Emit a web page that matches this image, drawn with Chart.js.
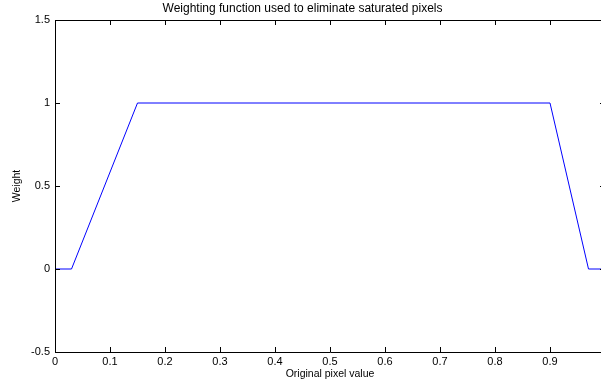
<!DOCTYPE html>
<html>
<head>
<meta charset="utf-8">
<script src="https://cdn.jsdelivr.net/npm/chart.js@4"></script>
<style>
  html, body { margin: 0; padding: 0; background: #fff; overflow: hidden; }
  #wrap { width: 660px; height: 381px; position: relative; }
</style>
</head>
<body>
<div id="wrap"><canvas id="weightChart"></canvas></div>
<script>
// weighting ramp: zero near the ends, flat at 1 in the middle
var pixelValues = [0, 0.03, 0.15, 0.9, 0.97, 1];
var weights     = [0, 0, 1, 1, 0, 0];

var xTickStep = 0.1;
var yTickStep = 0.5;

var chartTitle = 'Weighting function used to eliminate saturated pixels';
var xLabel = 'Original pixel value';
var yLabel = 'Weight';

var points = pixelValues.map(function(v, i) {
    return { x: v, y: weights[i] };
});

var fontFamily = '"Liberation Sans", Arial, Helvetica, sans-serif';

function plainNumber(value) {
    return String(Number(value.toFixed(3)));
}

// matlab style box with ticks pointing into the plot
var boxTicks = {
    id: 'boxTicks',
    afterDraw: function(chart) {
        var ctx = chart.ctx;
        var area = chart.chartArea;
        var xs = chart.scales.x;
        var ys = chart.scales.y;
        var len = 5;
        ctx.save();
        ctx.strokeStyle = '#000';
        ctx.lineWidth = 1;
        ctx.beginPath();
        ctx.rect(Math.round(area.left) + 0.5, Math.round(area.top) + 0.5,
                 Math.round(area.right - area.left), Math.round(area.bottom - area.top));
        xs.ticks.forEach(function(t) {
            var px = Math.round(xs.getPixelForValue(t.value)) + 0.5;
            ctx.moveTo(px, area.bottom);
            ctx.lineTo(px, area.bottom - len);
            ctx.moveTo(px, area.top);
            ctx.lineTo(px, area.top + len);
        });
        ys.ticks.forEach(function(t) {
            var py = Math.round(ys.getPixelForValue(t.value)) + 0.5;
            ctx.moveTo(area.left, py);
            ctx.lineTo(area.left + len, py);
            ctx.moveTo(area.right, py);
            ctx.lineTo(area.right - len, py);
        });
        ctx.stroke();
        ctx.restore();
    }
};

var config = {
    type: 'scatter',
    data: {
        datasets: [{
            data: points,
            showLine: true,
            borderColor: '#0000ff',
            borderWidth: 1,
            pointRadius: 0,
            fill: false,
            tension: 0
        }]
    },
    options: {
        responsive: true,
        maintainAspectRatio: false,
        animation: false,
        layout: { padding: { right: 55 } },
        plugins: {
            legend: { display: false },
            tooltip: { enabled: false },
            title: {
                display: true,
                text: chartTitle,
                color: '#000',
                font: { family: fontFamily, size: 12, weight: 'normal', lineHeight: 1.2 },
                padding: { top: 1, bottom: 4.6 }
            }
        },
        scales: {
            x: {
                type: 'linear',
                min: 0,
                max: 1,
                grid: { display: false, drawTicks: false },
                border: { display: false },
                ticks: {
                    stepSize: xTickStep,
                    color: '#000',
                    padding: 3,
                    maxRotation: 0,
                    font: { family: fontFamily, size: 11 },
                    // the right end of the axis runs off the page
                    callback: function(value) { return value >= 1 ? '' : plainNumber(value); }
                },
                title: {
                    display: true,
                    text: xLabel,
                    color: '#000',
                    font: { family: fontFamily, size: 10.5 },
                    padding: { top: 0, bottom: 1 }
                },
                afterFit: function(scale) { scale.height = 29; }
            },
            y: {
                type: 'linear',
                min: -0.5,
                max: 1.5,
                grid: { display: false, drawTicks: false },
                border: { display: false },
                ticks: {
                    stepSize: yTickStep,
                    color: '#000',
                    padding: 5,
                    font: { family: fontFamily, size: 11 },
                    callback: function(value) { return plainNumber(value); }
                },
                title: {
                    display: true,
                    text: yLabel,
                    color: '#000',
                    font: { family: fontFamily, size: 10.5 },
                    padding: { top: 11, bottom: 0 }
                },
                afterFit: function(scale) { scale.width = 55; }
            }
        }
    },
    plugins: [boxTicks]
};

var ctx = document.getElementById('weightChart');
window.myChart = new Chart(ctx, config);
</script>
</body>
</html>
